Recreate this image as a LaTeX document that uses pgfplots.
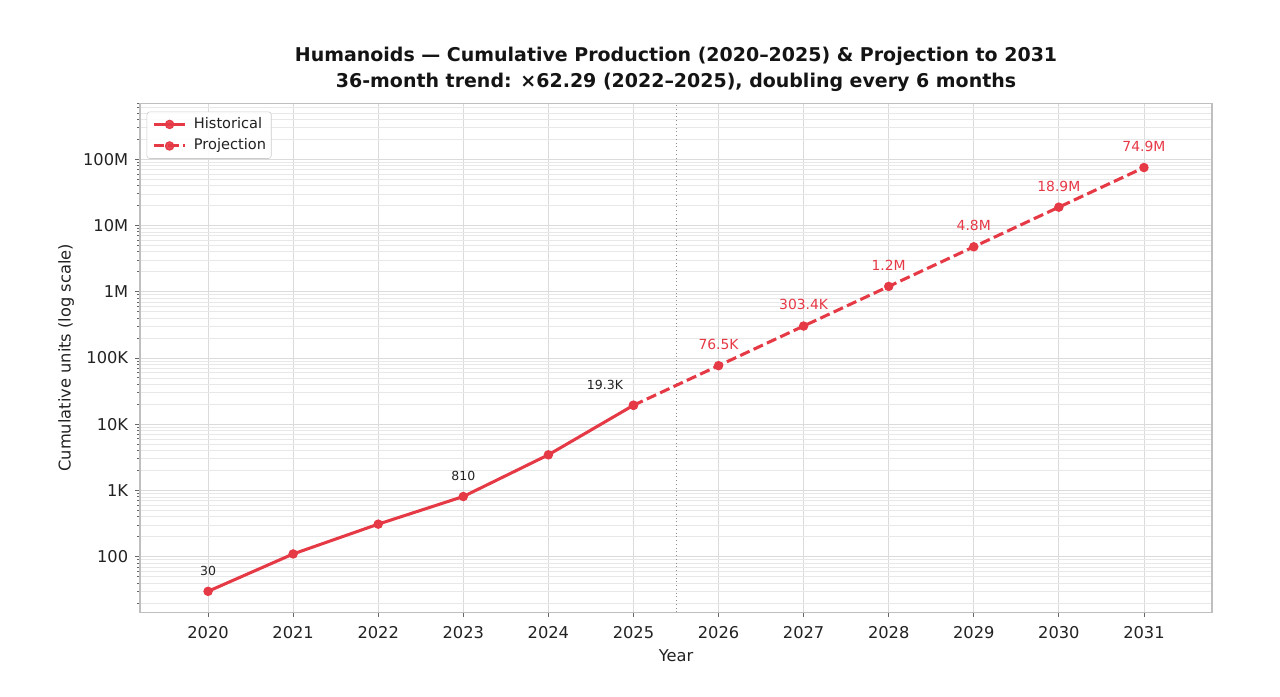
\documentclass[border=0pt]{standalone}
\usepackage{pgfplots}
\pgfplotsset{compat=1.18}
\usepackage{fontspec}
\setmainfont{DejaVu Sans}
\definecolor{cred}{RGB}{230,57,70}
\definecolor{txt}{RGB}{34,34,34}
\begin{document}
\begin{tikzpicture}
\begin{axis}[
  at={(0,0)}, anchor=south west,
  width=771.84pt, height=366.48pt, scale only axis,
  xmin=2019.2, xmax=2031.8,
  ymode=log, ymin=14.5, ymax=7e8,
  xtick={2020,2021,2022,2023,2024,2025,2026,2027,2028,2029,2030,2031},
  xticklabels={2020,2021,2022,2023,2024,2025,2026,2027,2028,2029,2030,2031},
  ytick={1e2,1e3,1e4,1e5,1e6,1e7,1e8},
  yticklabels={100,1K,10K,100K,1M,10M,100M},
  minor ytick={20,30,40,50,60,70,80,90,
    200,300,400,500,600,700,800,900,
    2e3,3e3,4e3,5e3,6e3,7e3,8e3,9e3,
    2e4,3e4,4e4,5e4,6e4,7e4,8e4,9e4,
    2e5,3e5,4e5,5e5,6e5,7e5,8e5,9e5,
    2e6,3e6,4e6,5e6,6e6,7e6,8e6,9e6,
    2e7,3e7,4e7,5e7,6e7,7e7,8e7,9e7,
    2e8,3e8,4e8,5e8,6e8,7e8},
  grid=both,
  major grid style={black!14, line width=0.6pt},
  minor grid style={black!9, line width=0.5pt},
  axis line style={black!25, line width=0.8pt},
  tick pos=left,
  tick align=outside,
  major tick length=3.5pt, minor tick length=2pt,
  every tick/.style={black!60, line width=0.6pt},
  ticklabel style={font=\fontsize{11.7}{14}\selectfont, text=txt},
  xticklabel style={yshift=-3pt},
  yticklabel style={xshift=-1.5pt},
  xlabel={Year},
  ylabel={Cumulative units (log scale)},
  label style={font=\fontsize{11.7}{14}\selectfont, text=txt},
  xlabel style={at={(axis description cs:0.5,-0.0971)}, anchor=base},
  ylabel style={at={(axis description cs:-0.0648,0.5)}, anchor=base},
  title={Humanoids — Cumulative Production (2020–2025) \& Projection to 2031\\36-month trend: ×62.29 (2022–2025), doubling every 6 months},
  title style={font=\bfseries\fontsize{13.66}{19.2}\selectfont, text=black!92, align=center,
    at={(axis description cs:0.5,1)}, anchor=south, inner sep=0pt, yshift=2pt},
  legend style={at={(axis description cs:0,1)}, anchor=north west, xshift=4.8pt, yshift=-6pt,
    draw=black!20, rounded corners=2pt, fill=white, fill opacity=0.9, text opacity=1,
    font=\fontsize{10.5}{12}\selectfont, text=txt, inner sep=3.8pt, row sep=5pt, column sep=5pt,
    nodes={inner sep=0pt, text height=8pt, text depth=2.5pt, anchor=west}},
  legend cell align=left,
  legend image code/.code={\draw[mark repeat=2,mark phase=2] plot coordinates {(0pt,0pt)(11.4pt,0pt)(22.8pt,0pt)};},
]
\addplot[black!45, dotted, line width=0.7pt, forget plot] coordinates {(2025.5,14.5) (2025.5,7e8)};

\addplot[cred, line width=2.2pt, mark=*, mark size=3pt, mark options={solid, line width=0.8pt, fill=cred}]
  coordinates {(2020,30) (2021,110) (2022,310) (2023,810) (2024,3450) (2025,19300)};
\addlegendentry{Historical}

\addplot[cred, line width=2.2pt, dash pattern=on 7.4pt off 3.2pt, mark=*, mark size=3pt, mark options={solid, line width=0.8pt, fill=cred}]
  coordinates {(2025,19300) (2026,76500) (2027,303400) (2028,1202000) (2029,4766000) (2030,18900000) (2031,74900000)};
\addlegendentry{Projection}

\node[font=\fontsize{9}{10}\selectfont, text=txt, anchor=base, inner sep=0pt, yshift=11.6pt] at (axis cs:2020,30) {30};
\node[font=\fontsize{9}{10}\selectfont, text=txt, anchor=base, inner sep=0pt, yshift=11.6pt] at (axis cs:2023,810) {810};
\node[font=\fontsize{9}{10}\selectfont, text=txt, anchor=base, inner sep=0pt, yshift=11.6pt, xshift=-20.5pt] at (axis cs:2025,19300) {19.3K};

\node[font=\fontsize{10}{11}\selectfont, text=cred, anchor=base, inner sep=0pt, yshift=11.6pt] at (axis cs:2026,76500) {76.5K};
\node[font=\fontsize{10}{11}\selectfont, text=cred, anchor=base, inner sep=0pt, yshift=11.6pt] at (axis cs:2027,303400) {303.4K};
\node[font=\fontsize{10}{11}\selectfont, text=cred, anchor=base, inner sep=0pt, yshift=11.6pt] at (axis cs:2028,1202000) {1.2M};
\node[font=\fontsize{10}{11}\selectfont, text=cred, anchor=base, inner sep=0pt, yshift=11.6pt] at (axis cs:2029,4766000) {4.8M};
\node[font=\fontsize{10}{11}\selectfont, text=cred, anchor=base, inner sep=0pt, yshift=11.6pt] at (axis cs:2030,18900000) {18.9M};
\node[font=\fontsize{10}{11}\selectfont, text=cred, anchor=base, inner sep=0pt, yshift=11.6pt] at (axis cs:2031,74900000) {74.9M};
\end{axis}
\pgfresetboundingbox
\path (0,0) ++(-100.8pt,-60.3pt) rectangle ++(921.6pt,501.12pt);
\end{tikzpicture}
\end{document}
